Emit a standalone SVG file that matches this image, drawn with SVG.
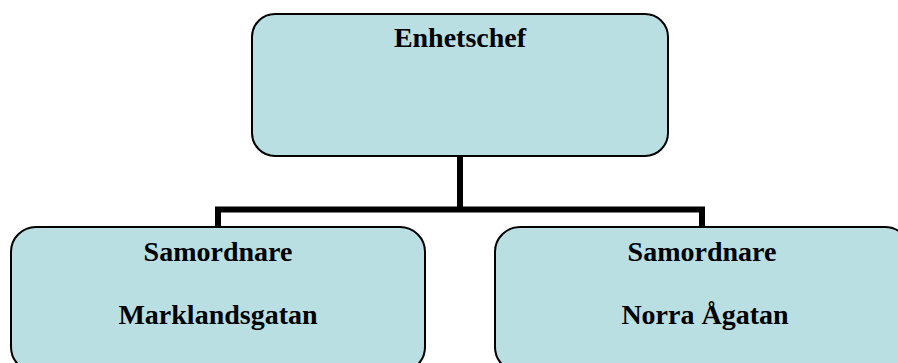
<svg xmlns="http://www.w3.org/2000/svg" width="898" height="363" viewBox="0 0 898 363">
  <style>
    .box { fill: #BADFE3; stroke: #000; stroke-width: 2; }
    .lbl { font-family: "Liberation Serif", "Times New Roman", serif; font-weight: bold; font-size: 28px; fill: #000; text-anchor: middle; }
    .conn { fill: none; stroke: #000; stroke-width: 6; stroke-linejoin: miter; stroke-linecap: butt; }
  </style>
  <rect width="898" height="363" fill="#fff"/>
  <g id="connectors">
    <path class="conn" d="M460 156 V209.5"/>
    <path class="conn" d="M218 227 V209.5 H702 V227"/>
  </g>
  <g id="node-enhetschef">
    <rect class="box" x="252" y="14" width="416" height="142" rx="23" ry="23"/>
    <text class="lbl" x="460" y="47">Enhetschef</text>
  </g>
  <g id="node-marklandsgatan">
    <rect class="box" x="11" y="227" width="414" height="145" rx="25" ry="25"/>
    <text class="lbl" x="218" y="261">Samordnare</text>
    <text class="lbl" x="218" y="324">Marklandsgatan</text>
  </g>
  <g id="node-norra-agatan">
    <rect class="box" x="495" y="227" width="415" height="145" rx="25" ry="25"/>
    <text class="lbl" x="702" y="261">Samordnare</text>
    <text class="lbl" x="705" y="324">Norra Ågatan</text>
  </g>
</svg>
